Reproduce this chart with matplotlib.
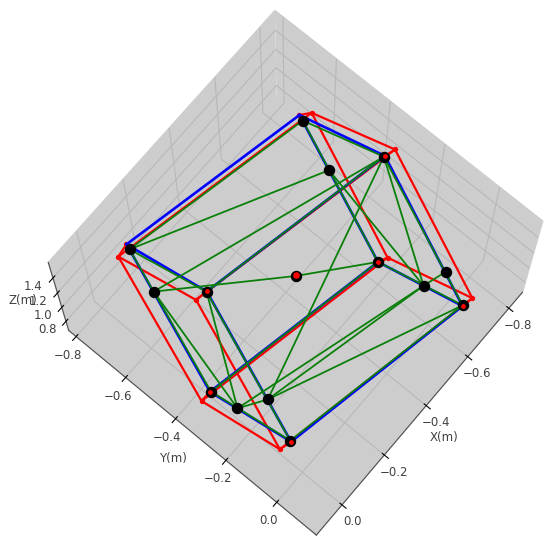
import matplotlib
matplotlib.use('Agg')
import matplotlib.pyplot as plt

# measured nodes, corners first: A B H K D F L O, then the mid-edge ones C E I J M N, centre G
green_x = [-0.789, -0.803, -0.611, -0.620, -0.130, -0.139, 0.031, 0.028,
           -0.726, -0.082, -0.616, -0.663, 0.030, -0.019, -0.379]
green_y = [-0.659, -0.361, -0.215, 0.091, -0.775, -0.476, -0.325, -0.023,
           -0.503, -0.641, -0.048, -0.009, -0.222, -0.146, -0.343]
green_z = [1.0, 1.25, 0.9, 1.15, 1.1, 1.35, 1.0, 1.25,
           0.965, 1.07, 1.03, 1.17, 1.08, 1.28, 1.125]

blue_x = [-0.796, -0.807, -0.611, -0.618, -0.136, -0.140, 0.033, 0.029]
blue_y = [-0.678, -0.360, -0.215, 0.092, -0.792, -0.476, -0.327, -0.019]
blue_z = [1.0, 1.25, 0.9, 1.15, 1.1, 1.35, 1.0, 1.25]

red_x = [-0.821, -0.837, -0.636, -0.651, -0.089, -0.098, 0.073, 0.069]
red_y = [-0.651, -0.347, -0.199, 0.101, -0.782, -0.480, -0.325, -0.027]
red_z = [1.02, 1.27, 0.92, 1.17, 1.12, 1.37, 1.02, 1.27]

center_x = [-0.381]
center_y = [-0.344]
center_z = [1.125]

box_edges = [(0, 1), (1, 3), (3, 2), (2, 0), (4, 5), (5, 7), (7, 6), (6, 4),
             (0, 4), (1, 5), (3, 7), (2, 6)]
# indices into green_*
cables = [(4, 8), (1, 9), (9, 14), (14, 2), (5, 12), (9, 12), (1, 13), (8, 10),
          (1, 10), (10, 13), (10, 12), (3, 13), (11, 10), (12, 13)]
tick_xy = [-0.8, -0.6, -0.4, -0.2, 0.0]
tick_z = [0.8, 1.0, 1.2, 1.4]

fig = plt.figure(figsize=(5.5, 5.43), dpi=100)
ax = fig.add_axes([28/550, -3/543, 522/550, 522/543], projection='3d', computed_zorder=False)
ax.view_init(elev=74, azim=40)
ax.set_xlim(-0.867, 0.12)
ax.set_ylim(-0.83, 0.155)
ax.set_zlim(0.665, 1.6)
ax.set_xticks(tick_xy)
ax.set_yticks(tick_xy)
ax.set_zticks(tick_z)
ax.set_xlabel('X(m)', fontsize=8.5, labelpad=-2, color='#404040')
ax.set_ylabel('Y(m)', fontsize=8.5, labelpad=-3, color='#404040')
ax.set_zlabel('Z(m)', fontsize=8.5, labelpad=-6, color='#404040')
ax.tick_params(labelsize=8.5, pad=0, labelcolor='#404040')
for a in (ax.xaxis, ax.yaxis, ax.zaxis):
    a.set_pane_color('#cdcdcd')
    a.pane.set_edgecolor('#cdcdcd')
    a.line.set_color('#505050')
    a._axinfo['grid']['color'] = '#b8b8b8'

for i, j in box_edges:
    ax.plot([red_x[i], red_x[j]], [red_y[i], red_y[j]], [red_z[i], red_z[j]],
            color='#ff0000', lw=1.6, zorder=2)
for i in range(8):
    ax.plot([blue_x[i], red_x[i]], [blue_y[i], red_y[i]], [blue_z[i], red_z[i]],
            color='#ff0000', lw=1.6, zorder=2)
for i, j in box_edges:
    ax.plot([blue_x[i], blue_x[j]], [blue_y[i], blue_y[j]], [blue_z[i], blue_z[j]],
            color='#0000ff', lw=1.9, zorder=3)
for i, j in box_edges + cables:
    ax.plot([green_x[i], green_x[j]], [green_y[i], green_y[j]], [green_z[i], green_z[j]],
            color='#0a800a', lw=1.3, zorder=4)

ax.scatter(red_x, red_y, red_z, c='#ff0000', s=8, depthshade=False, zorder=2)
ax.scatter(blue_x[0], blue_y[0], blue_z[0], c='#ff0000', s=8, depthshade=False, zorder=2)
ax.scatter(blue_x[4], blue_y[4], blue_z[4], c='#ff0000', s=8, depthshade=False, zorder=2)
ax.scatter(green_x, green_y, green_z, c='k', s=52, depthshade=False, zorder=5)
ax.scatter(blue_x[1:4] + blue_x[5:], blue_y[1:4] + blue_y[5:], blue_z[1:4] + blue_z[5:],
           c='#ff0000', s=6, depthshade=False, zorder=6)
ax.scatter(center_x, center_y, center_z, c='#ff0000', s=14, depthshade=False, zorder=6)

fig.savefig('out.png', dpi=100)
